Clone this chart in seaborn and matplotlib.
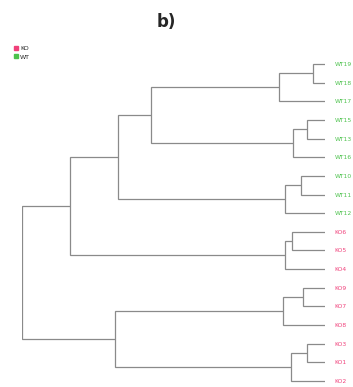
import matplotlib
matplotlib.use("Agg")
import matplotlib.pyplot as plt
from matplotlib.lines import Line2D
import seaborn as sns
import numpy as np

# ---- data ----
leaves = ["WT19", "WT18", "WT17", "WT15", "WT13", "WT16", "WT10", "WT11", "WT12",
          "KO6", "KO5", "KO4", "KO9", "KO7", "KO8", "KO3", "KO1", "KO2"]
groups = ["WT"] * 9 + ["KO"] * 9
# linkage (scipy style): new cluster id = n_leaves + row index
merge_left = [0, 18, 3, 20, 19, 6, 23, 22, 9, 26, 25, 12, 29, 15, 31, 30, 28]
merge_right = [1, 2, 4, 5, 21, 7, 8, 24, 10, 11, 27, 13, 14, 16, 17, 32, 33]
merge_height = [12, 46, 18, 32, 174, 24, 40, 207, 33, 40, 255, 22, 42, 18, 34, 210, 303]

palette = {"KO": "#f0407a", "WT": "#4cc24c"}
line_color = "#8a8a8a"

sns.set_style("white")
plt.rcParams["font.family"] = ["DejaVu Sans"]

W, H = 353, 387
fig = plt.figure(figsize=(W / 100, H / 100), dpi=100)

# axes placement (pixels)
x_left, x_right = 22, 325
y_first, y_last = 64, 381
n = len(leaves)
step = (y_last - y_first) / (n - 1)
top_px = y_first - 0.5 * step
height_px = n * step
ax = fig.add_axes([x_left / W, 1 - (top_px + height_px) / H,
                   (x_right - x_left) / W, height_px / H])

# compute positions
pos = {i: (float(i), 0.0) for i in range(n)}
for k, (a, b, h) in enumerate(zip(merge_left, merge_right, merge_height)):
    ya, ha = pos[a]
    yb, hb = pos[b]
    ax.plot([ha, h, h, hb], [ya, ya, yb, yb], color=line_color, lw=0.9,
            solid_capstyle="butt", solid_joinstyle="miter")
    pos[n + k] = ((ya + yb) / 2, h)

ax.set_xlim(max(merge_height), 0)
ax.set_ylim(n - 0.5, -0.5)
ax.set_xticks([])
ax.yaxis.tick_right()
ax.set_yticks(range(n))
ax.set_yticklabels(leaves, fontsize=4.3)
for lab, g in zip(ax.get_yticklabels(), groups):
    lab.set_color(palette[g])
ax.tick_params(axis="y", length=0, pad=7)
for s in ax.spines.values():
    s.set_visible(False)

handles = [Line2D([], [], marker="s", ls="", color=palette[g], markersize=2.3, label=g)
           for g in ["KO", "WT"]]
fig.legend(handles=handles, loc="upper left", bbox_to_anchor=(0.025, 0.893),
           frameon=False, fontsize=4.5, handletextpad=0.3, labelspacing=0.5,
           borderpad=0.2, handlelength=0.8)

fig.text(166 / W, 1 - 22 / H, "b)", fontsize=12, fontweight="bold",
         ha="center", va="center")

fig.savefig("out.png", dpi=100)
